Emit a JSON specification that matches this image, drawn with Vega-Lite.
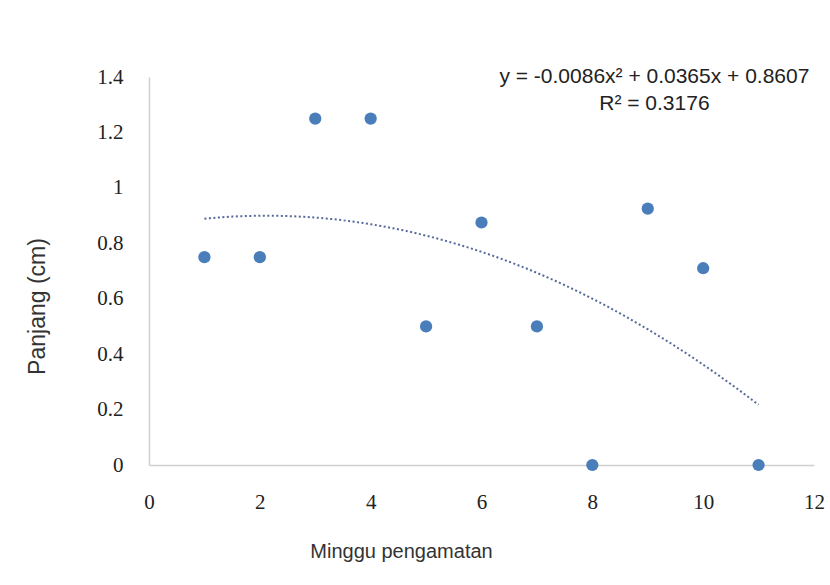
{
  "$schema": "https://vega.github.io/schema/vega-lite/v6.json",
  "width": 665,
  "height": 388,
  "autosize": {"type": "none"},
  "padding": {"left": 149, "top": 77, "right": 16, "bottom": 120},
  "background": "white",
  "config": {"view": {"stroke": null}},
  "datasets": {
    "pts": [
      {"minggu": 1, "panjang": 0.75},
      {"minggu": 2, "panjang": 0.75},
      {"minggu": 3, "panjang": 1.25},
      {"minggu": 4, "panjang": 1.25},
      {"minggu": 5, "panjang": 0.5},
      {"minggu": 6, "panjang": 0.875},
      {"minggu": 7, "panjang": 0.5},
      {"minggu": 8, "panjang": 0},
      {"minggu": 9, "panjang": 0.925},
      {"minggu": 10, "panjang": 0.71},
      {"minggu": 11, "panjang": 0}
    ],
    "labels": [
      {"x": 9.12, "y": 1.4, "text": "y = -0.0086x² + 0.0365x + 0.8607"},
      {"x": 9.12, "y": 1.302, "text": "R² = 0.3176"}
    ]
  },
  "layer": [
    {
      "data": {"name": "pts"},
      "transform": [
        {"regression": "panjang", "on": "minggu", "method": "poly", "order": 2}
      ],
      "mark": {"type": "line", "color": "#57699a", "strokeWidth": 2, "strokeDash": [2, 2.5]},
      "encoding": {
        "x": {"field": "minggu", "type": "quantitative"},
        "y": {"field": "panjang", "type": "quantitative"}
      }
    },
    {
      "data": {"name": "pts"},
      "mark": {"type": "point", "filled": true, "shape": "circle", "size": 150, "color": "#4a7ebb", "opacity": 1},
      "encoding": {
        "x": {
          "field": "minggu", "type": "quantitative",
          "scale": {"domain": [0, 12], "nice": false, "zero": false},
          "axis": {
            "values": [0, 2, 4, 6, 8, 10, 12], "format": "~g",
            "grid": false, "ticks": false,
            "domainColor": "#d0d0d0", "domainWidth": 1.5,
            "labelFont": "Liberation Serif", "labelFontSize": 21, "labelColor": "#222",
            "labelPadding": 26, "labelFlush": false,
            "title": "Minggu pengamatan",
            "titleFont": "Liberation Sans", "titleFontSize": 20, "titleFontWeight": "normal", "titleColor": "#333",
            "titleX": 252, "titleY": 76, "titleAnchor": "middle", "titleBaseline": "top"
          }
        },
        "y": {
          "field": "panjang", "type": "quantitative",
          "scale": {"domain": [0, 1.4], "nice": false},
          "axis": {
            "values": [0, 0.2, 0.4, 0.6, 0.8, 1, 1.2, 1.4], "format": "~g",
            "grid": false, "ticks": false,
            "domainColor": "#d0d0d0", "domainWidth": 1.5,
            "labelFont": "Liberation Serif", "labelFontSize": 21, "labelColor": "#222",
            "labelPadding": 26, "labelFlush": false,
            "title": "Panjang (cm)",
            "titleFont": "Liberation Sans", "titleFontSize": 23, "titleFontWeight": "normal", "titleColor": "#333",
            "titleX": -112, "titleY": 229, "titleAngle": -90, "titleAnchor": "middle", "titleBaseline": "middle"
          }
        }
      }
    },
    {
      "data": {"name": "labels"},
      "mark": {"type": "text", "font": "Liberation Sans", "fontSize": 21, "color": "#222", "align": "center", "baseline": "middle"},
      "encoding": {
        "x": {"field": "x", "type": "quantitative"},
        "y": {"field": "y", "type": "quantitative"},
        "text": {"field": "text"}
      }
    }
  ]
}
